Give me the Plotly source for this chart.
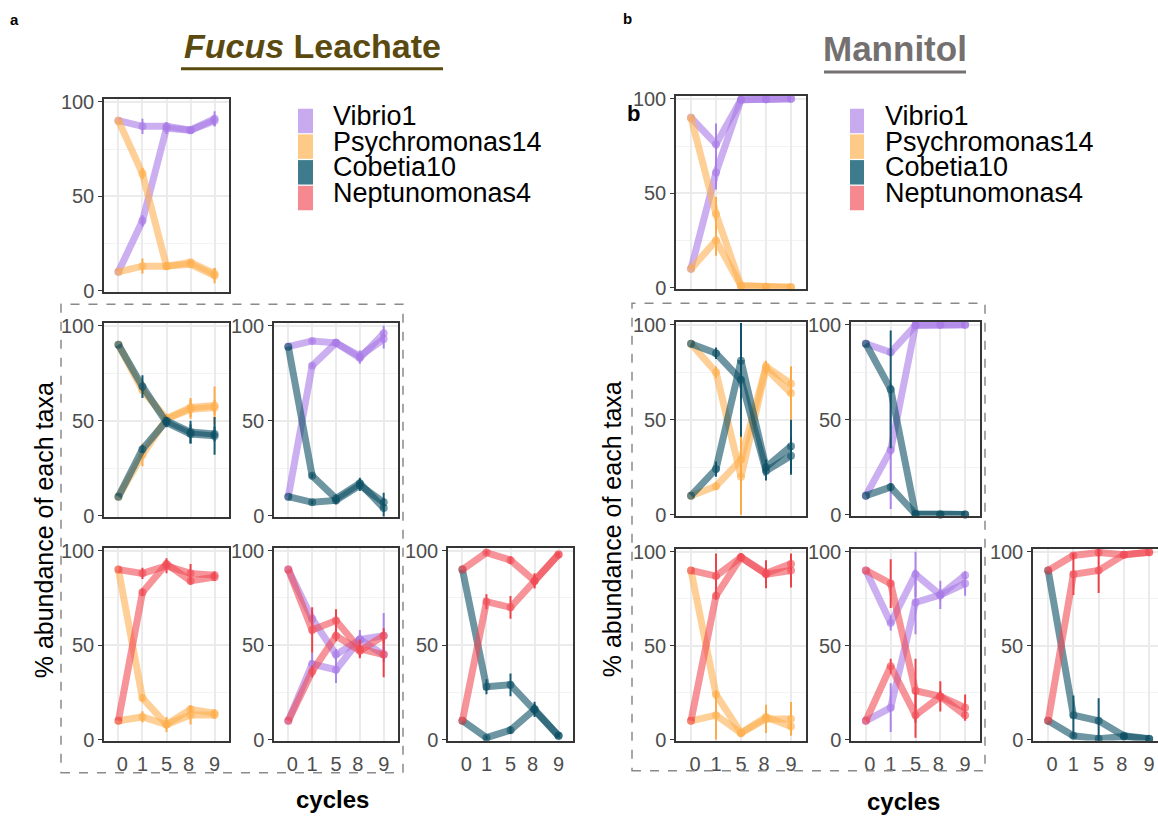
import plotly.graph_objects as go

W, H = 1158, 819
FONT = "Liberation Sans, Arial, Helvetica, sans-serif"

# ---------------------------------------------------------------- data
cycles = ["0", "1", "5", "8", "9"]
cycle_labels = ["\u2009\u20090", "1", "5", "8\u2009", "9"]
y_ticks = [0, 50, 100]
taxa = ["Vibrio1", "Psychromonas14", "Cobetia10", "Neptunomonas4"]

# each row: (taxon, mean % abundance per cycle, error per cycle)
# Fucus leachate co-cultures (start ratios 90:10 and 10:90)
fucus_vib_psy = [
    ("Vibrio1", [90, 87, 87, 85, 91], [0, 4, 2, 1, 4]),
    ("Vibrio1", [10, 37, 86, 85, 90], [0, 3, 3, 1, 3]),
    ("Psychromonas14", [90, 62, 13, 14, 8], [0, 3, 2, 1, 4]),
    ("Psychromonas14", [10, 13, 13, 15, 9], [0, 4, 2, 1, 3]),
]
fucus_psy_cob = [
    ("Psychromonas14", [90, 66, 51, 56, 57], [0, 2, 2, 5, 4]),
    ("Psychromonas14", [10, 32, 51, 57, 58], [0, 6, 2.5, 5, 10]),
    ("Cobetia10", [90, 68, 49, 43, 42], [0, 6, 2.5, 5, 10]),
    ("Cobetia10", [10, 35, 50, 44, 43], [0, 2, 2, 6, 4]),
]
fucus_vib_cob = [
    ("Vibrio1", [89, 92, 91, 84, 93], [0, 1, 2, 3, 5]),
    ("Vibrio1", [10, 79, 91, 83, 96], [0, 1, 2, 3, 4]),
    ("Cobetia10", [89, 21, 9, 17, 4], [0, 1, 2, 3, 5]),
    ("Cobetia10", [10, 7, 8, 16, 7], [0, 1, 2, 3, 5]),
]
fucus_psy_nep = [
    ("Psychromonas14", [90, 22, 8, 16, 14], [0, 2, 2, 2, 2]),
    ("Psychromonas14", [10, 12, 8, 13, 13], [0, 3, 4, 5, 2]),
    ("Neptunomonas4", [90, 88, 92, 88, 87], [0, 3, 4, 5, 2]),
    ("Neptunomonas4", [10, 78, 93, 84, 86], [0, 2, 2, 2, 2]),
]
fucus_vib_nep = [
    ("Vibrio1", [90, 64, 45, 53, 45], [0, 3, 3, 3, 4]),
    ("Vibrio1", [10, 40, 37, 53, 55], [0, 6, 7, 5, 12]),
    ("Neptunomonas4", [90, 58, 63, 48, 45], [0, 12, 6, 5, 12]),
    ("Neptunomonas4", [10, 36, 55, 47, 55], [0, 3, 3, 3, 4]),
]
fucus_cob_nep = [
    ("Cobetia10", [90, 28, 29, 16, 2], [0, 4, 6, 3, 1]),
    ("Cobetia10", [10, 1, 5, 16, 2], [0, 1, 2, 4, 1]),
    ("Neptunomonas4", [90, 99, 95, 84, 98], [0, 1, 2, 4, 1]),
    ("Neptunomonas4", [10, 73, 70, 84, 98], [0, 4, 6, 3, 1]),
]

# Mannitol co-cultures
mannitol_vib_psy = [
    ("Vibrio1", [90, 76, 99.5, 99.8, 100], [0, 11, 0.3, 0.2, 0.1]),
    ("Vibrio1", [10, 61, 99.5, 99.8, 100], [0, 9, 0.3, 0.2, 0.1]),
    ("Psychromonas14", [90, 39, 1, 0.5, 0.2], [0, 9, 0.3, 0.2, 0.1]),
    ("Psychromonas14", [10, 25, 1, 0.5, 0.2], [0, 8, 0.3, 0.2, 0.1]),
]
mannitol_psy_cob = [
    ("Psychromonas14", [90, 75, 20, 77, 64], [0, 3, 20, 3, 14]),
    ("Psychromonas14", [10, 15, 29, 78, 69], [0, 2, 16, 3, 9]),
    ("Cobetia10", [90, 85, 71, 23, 31], [0, 3, 30, 5, 10]),
    ("Cobetia10", [10, 24, 81, 25, 36], [0, 4, 20, 4, 14]),
]
mannitol_vib_cob = [
    ("Vibrio1", [90, 85.5, 99.7, 100, 100], [0, 2, 0, 0, 0]),
    ("Vibrio1", [10, 34, 99.7, 100, 100], [0, 31, 0, 0, 0]),
    ("Cobetia10", [90, 66, 0.3, 0.1, 0.1], [0, 31, 0, 0, 0]),
    ("Cobetia10", [10, 14.5, 0.3, 0.1, 0.1], [0, 2, 0, 0, 0]),
]
mannitol_psy_nep = [
    ("Psychromonas14", [90, 24, 3.5, 12, 7], [0, 2, 2, 3, 3]),
    ("Psychromonas14", [10, 13, 3.5, 11, 11], [0, 13, 2, 7.5, 9]),
    ("Neptunomonas4", [90, 87, 97, 88, 90], [0, 12, 2, 7.5, 9]),
    ("Neptunomonas4", [10, 76.5, 97, 88.5, 93.5], [0, 2, 2, 3, 3]),
]
mannitol_vib_nep = [
    ("Vibrio1", [90, 62, 88, 77, 87.5], [0, 4, 12, 3, 2]),
    ("Vibrio1", [10, 17, 73, 77, 83], [0, 13, 17, 7.5, 6.5]),
    ("Neptunomonas4", [90, 83, 26, 23, 17], [0, 13, 17, 8, 7]),
    ("Neptunomonas4", [10, 39, 13, 23, 13], [0, 4, 12, 3, 2]),
]
mannitol_cob_nep = [
    ("Cobetia10", [90, 13, 10, 2, 0.5], [0, 10.5, 12, 1, 0.3]),
    ("Cobetia10", [10, 2, 0.4, 1.7, 0.3], [0, 1, 0.4, 1, 0.3]),
    ("Neptunomonas4", [90, 98, 99.6, 98.3, 99.7], [0, 1, 0.4, 1, 0.3]),
    ("Neptunomonas4", [10, 88, 90, 98.3, 99.7], [0, 11, 12, 1, 0.3]),
]

# ---------------------------------------------------------------- styling
line_rgb = {
    "Vibrio1": (168, 122, 230),
    "Psychromonas14": (253, 176, 82),
    "Cobetia10": (14, 80, 100),
    "Neptunomonas4": (240, 76, 86),
}
bar_rgb = {
    "Vibrio1": (170, 126, 232),
    "Psychromonas14": (252, 168, 66),
    "Cobetia10": (16, 82, 106),
    "Neptunomonas4": (236, 58, 64),
}
legend_fill = ["#C8AAEF", "#FDCA88", "#3E7C8D", "#F5898F"]


def rgba(c, a):
    return f"rgba({c[0]},{c[1]},{c[2]},{a})"


def fx(p):
    return p / W


def fy(p):
    return 1 - p / H


# pixel boxes of the small panels
A_cols = [(104, 229), (274, 398), (448, 573)]
A_rows = [(93, 290), (322, 520), (552, 749)]
B_cols = [(676, 806), (851, 980), (1033, 1158)]
B_rows = [(90, 287), (321, 519), (553, 749)]

panels = [
    (fucus_vib_psy, A_cols[0], A_rows[0], False, True),
    (fucus_psy_cob, A_cols[0], A_rows[1], False, True),
    (fucus_vib_cob, A_cols[1], A_rows[1], False, True),
    (fucus_psy_nep, A_cols[0], A_rows[2], True, True),
    (fucus_vib_nep, A_cols[1], A_rows[2], True, True),
    (fucus_cob_nep, A_cols[2], A_rows[2], True, True),
    (mannitol_vib_psy, B_cols[0], B_rows[0], False, True),
    (mannitol_psy_cob, B_cols[0], B_rows[1], False, True),
    (mannitol_vib_cob, B_cols[1], B_rows[1], False, True),
    (mannitol_psy_nep, B_cols[0], B_rows[2], True, True),
    (mannitol_vib_nep, B_cols[1], B_rows[2], True, True),
    (mannitol_cob_nep, B_cols[2], B_rows[2], True, False),
]

fig = go.Figure()
layout = {}
for i, (data, (x0, x1), (y0, y1), show_x, right_edge) in enumerate(panels, start=1):
    xa = "x" if i == 1 else f"x{i}"
    ya = "y" if i == 1 else f"y{i}"
    # spacing between categories follows the panel width; last panel is cut at the page edge
    step = (x1 - x0) / 5.2 if right_edge else 25.25
    x_hi = (x1 - x0) / step - 0.6
    layout["xaxis" if i == 1 else f"xaxis{i}"] = dict(
        domain=[fx(x0), fx(x1)], anchor=ya, type="category",
        categoryorder="array", categoryarray=cycles,
        range=[-0.6, x_hi],
        tickmode="array", tickvals=cycles,
        ticktext=cycle_labels if show_x else [""] * 5,
        showticklabels=show_x, ticks="", ticklabelstandoff=5,
        tickfont=dict(size=20, color="#4d4d4d", family=FONT),
        showgrid=True, gridcolor="#ebebeb", gridwidth=1.6,
        zeroline=False, showline=True, linecolor="#363636", linewidth=1.5,
        mirror=True, fixedrange=True,
    )
    layout["yaxis" if i == 1 else f"yaxis{i}"] = dict(
        domain=[fy(y1), fy(y0)], anchor=xa,
        range=[-0.5, 101.5],
        tickmode="array", tickvals=y_ticks,
        ticks="outside", ticklen=4, tickwidth=1.3, tickcolor="#363636",
        tickfont=dict(size=20, color="#4d4d4d", family=FONT),
        showgrid=True, gridcolor="#ebebeb", gridwidth=1.6,
        minor=dict(tickvals=[25, 75], showgrid=True, gridcolor="#f3f3f3",
                   gridwidth=1.2, ticks=""),
        zeroline=False, showline=True, linecolor="#363636", linewidth=1.5,
        mirror=right_edge, fixedrange=True,
    )
    for taxon, means, errs in data:
        fig.add_trace(go.Scatter(
            x=cycles, y=means, xaxis=xa, yaxis=ya,
            mode="lines+markers", name=taxon, showlegend=False,
            line=dict(color=rgba(line_rgb[taxon], 0.6), width=7),
            marker=dict(size=8, color=rgba(line_rgb[taxon], 0.6)),
            error_y=dict(type="data", array=errs, visible=True,
                         color=rgba(bar_rgb[taxon], 0.95),
                         thickness=2, width=0),
            cliponaxis=False, hoverinfo="skip",
        ))

shapes = []
annotations = []

# dashed frames around the lower panels
for (l, t, r, b) in [(61, 303, 403, 782), (632, 302, 985, 780)]:
    shapes.append(dict(type="rect", xref="paper", yref="paper",
                       x0=fx(l), x1=fx(r), y0=fy(b), y1=fy(t),
                       line=dict(color="#8a8a8a", width=1.5, dash="dash")))

# titles with underlines
annotations.append(dict(text="<b><i>Fucus</i> Leachate</b>", x=fx(312), y=fy(39),
                        xref="paper", yref="paper", showarrow=False,
                        xanchor="center", yanchor="middle",
                        font=dict(size=34, color="#5a4a10", family=FONT)))
shapes.append(dict(type="line", xref="paper", yref="paper",
                   x0=fx(181), x1=fx(443), y0=fy(62), y1=fy(62),
                   line=dict(color="#5a4a10", width=3)))
annotations.append(dict(text="<b>Mannitol</b>", x=fx(895), y=fy(41),
                        xref="paper", yref="paper", showarrow=False,
                        xanchor="center", yanchor="middle",
                        font=dict(size=35, color="#747070", family=FONT)))
shapes.append(dict(type="line", xref="paper", yref="paper",
                   x0=fx(824), x1=fx(966), y0=fy(65.5), y1=fy(65.5),
                   line=dict(color="#747070", width=3)))

# panel letters
for txt, x, y, s in [("a", 14, 12, 15), ("b", 627, 11, 15), ("b", 633, 108, 22)]:
    annotations.append(dict(text=f"<b>{txt}</b>", x=fx(x), y=fy(y),
                            xref="paper", yref="paper", showarrow=False,
                            xanchor="center", yanchor="middle",
                            font=dict(size=s, color="black", family=FONT)))

# axis titles
for x, y in [(44, 534), (612, 533)]:
    annotations.append(dict(text="% abundance of each taxa", x=fx(x), y=fy(y),
                            xref="paper", yref="paper", showarrow=False,
                            textangle=-90, xanchor="center", yanchor="middle",
                            font=dict(size=25, color="black", family=FONT)))
for x, y in [(332, 809), (903, 811)]:
    annotations.append(dict(text="<b>cycles</b>", x=fx(x), y=fy(y),
                            xref="paper", yref="paper", showarrow=False,
                            xanchor="center", yanchor="middle",
                            font=dict(size=24, color="black", family=FONT)))

# legends
row_centers = [115.5, 141.7, 168, 194.3]
for sq_x0, sq_x1, tx in [(298, 313, 331), (850, 864, 883)]:
    for name, fill, yc in zip(taxa, legend_fill, row_centers):
        shapes.append(dict(type="rect", xref="paper", yref="paper",
                           x0=fx(sq_x0), x1=fx(sq_x1),
                           y0=fy(yc + 12.5), y1=fy(yc - 12.5),
                           fillcolor=fill, line=dict(width=0)))
        annotations.append(dict(text=name, x=fx(tx), y=fy(yc - 5),
                                xref="paper", yref="paper", showarrow=False,
                                xanchor="left", yanchor="middle",
                                font=dict(size=27, color="black", family=FONT)))

fig.update_layout(
    width=W, height=H,
    margin=dict(l=0, r=0, t=0, b=0),
    paper_bgcolor="white", plot_bgcolor="white",
    showlegend=False,
    shapes=shapes, annotations=annotations,
    **layout,
)

fig.write_html("out.html", config={"displayModeBar": False})
